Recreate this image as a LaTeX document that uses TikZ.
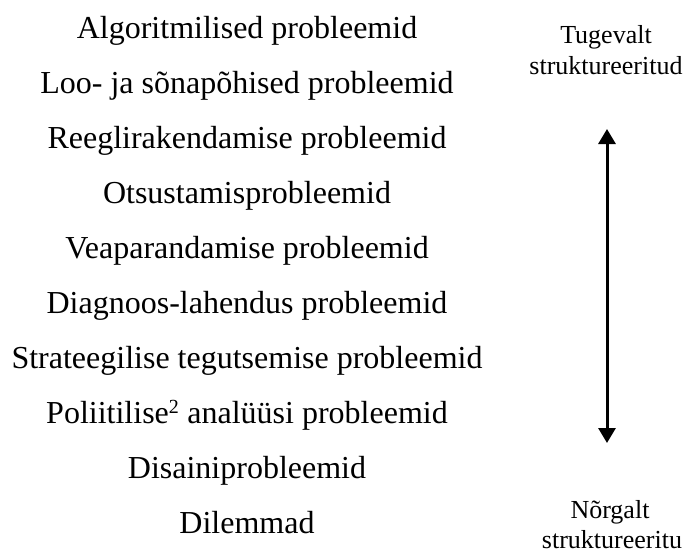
\documentclass[tikz,border=0pt]{standalone}
\usepackage{fontspec}
\setmainfont{Liberation Serif}
\usetikzlibrary{arrows.meta}
\begin{document}
\begin{tikzpicture}[x=1pt,y=-1pt,
  item/.style={anchor=base,inner sep=0pt,font=\fontsize{32}{38}\selectfont},
  side/.style={anchor=base,inner sep=0pt,font=\fontsize{26}{30}\selectfont},
  scale arrow/.style={line width=3pt,{Triangle[length=15pt,width=17pt]}-{Triangle[length=15pt,width=17pt]}}]
\useasboundingbox (0,0) rectangle (687,554);
\node[item] (n1) at (247,38) {Algoritmilised probleemid};
\node[item] (n2) at (247,93) {Loo- ja sõnapõhised probleemid};
\node[item] (n3) at (247,148) {Reeglirakendamise probleemid};
\node[item] (n4) at (247,203) {Otsustamisprobleemid};
\node[item] (n5) at (247,258) {Veaparandamise probleemid};
\node[item] (n6) at (247,313) {Diagnoos-lahendus probleemid};
\node[item] (n7) at (247,368) {Strateegilise tegutsemise probleemid};
\node[item] (n8) at (247,423) {Poliitilise\textsuperscript{\fontsize{20}{20}\selectfont 2} analüüsi probleemid};
\node[item] (n9) at (247,478) {Disainiprobleemid};
\node[item] (n10) at (247,533) {Dilemmad};
\node[side] (t1) at (606,43) {Tugevalt};
\node[side] (t2) at (606,74) {struktureeritud};
\node[side] (b1) at (610,518) {Nõrgalt};
\node[side] (b2) at (612,548) {struktureeritu};
\coordinate (top) at (607,129);
\coordinate (bot) at (607,443);
\draw[scale arrow] (top) -- (bot);
\end{tikzpicture}
\end{document}
